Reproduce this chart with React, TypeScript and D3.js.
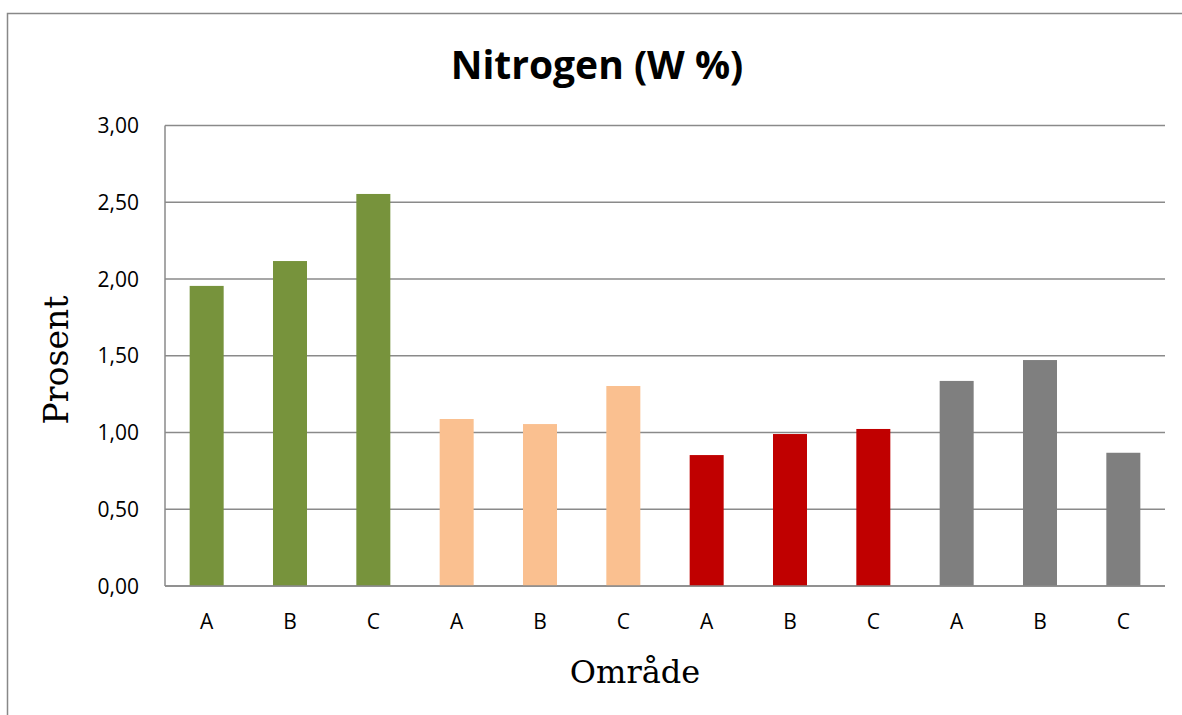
import React from "react";
import * as d3 from "d3";

const title = "Nitrogen (W %)";
const yAxisTitle = "Prosent";
const xAxisTitle = "Område";
const categories = ["A", "B", "C", "A", "B", "C", "A", "B", "C", "A", "B", "C"];
const values = [1.955, 2.117, 2.554, 1.088, 1.055, 1.303, 0.853, 0.99, 1.023, 1.336, 1.472, 0.868];
const groupOf = [0, 0, 0, 1, 1, 1, 2, 2, 2, 3, 3, 3];
const groupColors = ["#77933C", "#FAC090", "#C00000", "#7F7F7F"];
const yTicks = [0, 0.5, 1, 1.5, 2, 2.5, 3];

const W = 1182;
const H = 715;
const plot = { left: 165, right: 1165, top: 125.5, bottom: 586 };

export default function App() {
  const idx = categories.map((_, i) => i);
  const x = d3.scaleBand<number>().domain(idx).range([plot.left, plot.right]).padding(0);
  const y = d3.scaleLinear().domain([0, 3]).range([plot.bottom, plot.top]);
  const barW = x.bandwidth() * 0.408;
  const fmt = (v: number) => d3.format(".2f")(v).replace(".", ",");
  const sans = "'Open Sans', 'Noto Sans', sans-serif";
  const serif = "'DejaVu Serif', serif";
  return (
    <svg width={W} height={H} style={{ position: "absolute", left: 0, top: 0 }}>
      <rect x={0} y={0} width={W} height={H} fill="#fff" />
      <rect x={7.5} y={13.5} width={1300} height={800} fill="none" stroke="#888" strokeWidth={1.5} />
      <text x={597} y={79} textAnchor="middle" fontFamily={sans} fontWeight="bold" fontSize={39} fill="#000">
        {title}
      </text>
      {yTicks.map((t) => (
        <g key={t}>
          <line x1={plot.left} x2={plot.right} y1={y(t)} y2={y(t)} stroke="#8a8a8a" strokeWidth={1.5} />
          <text x={139} y={y(t) + 7.5} textAnchor="end" fontFamily={sans} fontSize={21} fill="#000">
            {fmt(t)}
          </text>
        </g>
      ))}
      <line x1={plot.left} x2={plot.left} y1={plot.top} y2={plot.bottom} stroke="#8a8a8a" strokeWidth={1.5} />
      {values.map((v, i) => (
        <rect
          key={i}
          x={(x(i) as number) + x.bandwidth() / 2 - barW / 2}
          y={y(v)}
          width={barW}
          height={y(0) - y(v)}
          fill={groupColors[groupOf[i]]}
        />
      ))}
      <line x1={plot.left} x2={plot.right} y1={y(0)} y2={y(0)} stroke="#8a8a8a" strokeWidth={1.5} />
      {categories.map((c, i) => (
        <text
          key={i}
          x={(x(i) as number) + x.bandwidth() / 2}
          y={628.5}
          textAnchor="middle"
          fontFamily={sans}
          fontSize={21}
          fill="#000"
        >
          {c}
        </text>
      ))}
      <text x={635} y={683} textAnchor="middle" fontFamily={serif} fontSize={32} fill="#000">
        {xAxisTitle}
      </text>
      <text
        transform="translate(68,360) rotate(-90)"
        textAnchor="middle"
        fontFamily={serif}
        fontSize={33}
        fill="#000"
      >
        {yAxisTitle}
      </text>
    </svg>
  );
}
